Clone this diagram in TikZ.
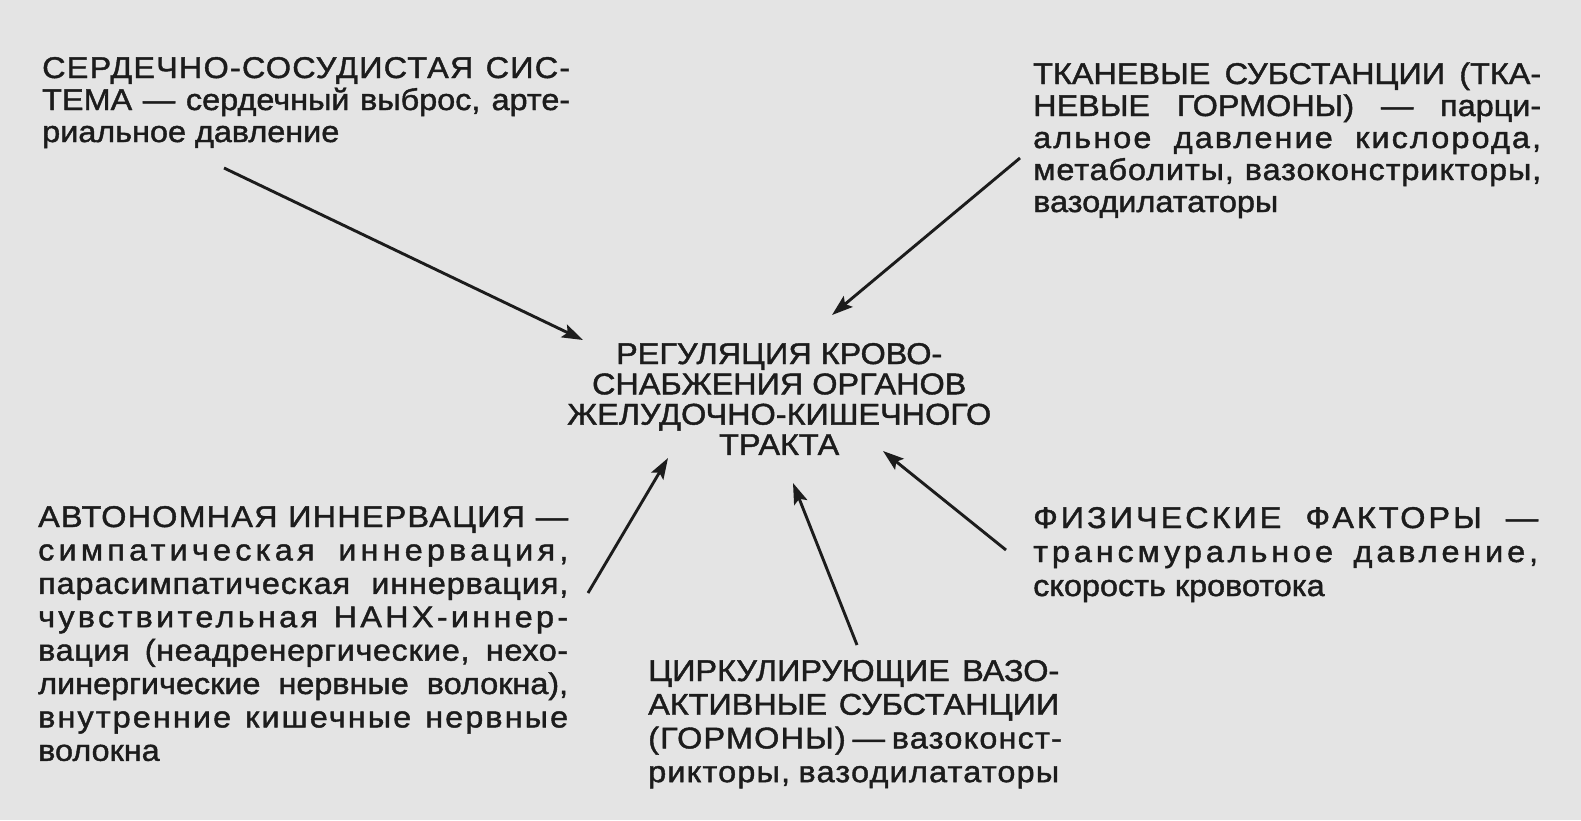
\documentclass[tikz,border=0pt]{standalone}
\usepackage{fontspec}
\setmainfont{Liberation Sans}[FakeStretch=1.08,FakeBold=1.4]
\usetikzlibrary{arrows.meta}
\definecolor{bg}{RGB}{228,228,228}
\definecolor{ink}{RGB}{28,28,28}
\newlength\bw
\newcommand\jl[1]{\hbox to \bw{#1}}
\newcommand\lastl[1]{\hbox to \bw{#1\hfil}}
\newcommand\cl[1]{\hbox to \bw{\hfil#1\hfil}}
\newcommand\lsp[2]{{\addfontfeature{LetterSpace=#1}#2}}
\newcommand\blocktext[3]{\vtop{\setlength\bw{#1}\baselineskip=#2\lineskiplimit=-100pt\lineskip=0pt #3}}
\tikzset{
  txt/.style={inner sep=0pt, anchor=base west, text=ink, font=\fontsize{30}{32}\selectfont},
  arr/.style={draw=ink, line width=2.9pt, -{Stealth[length=21pt,width=14pt,inset=4pt]}}
}
\begin{document}
\begin{tikzpicture}[x=1pt,y=-1pt]
\fill[bg] (0,0) rectangle (1581,820);
\useasboundingbox (0,0) rectangle (1581,820);

\node[txt] (cardio) at (42,78) {\blocktext{528pt}{32pt}{%
\jl{\lsp{4}{СЕРДЕЧНО-СОСУДИСТАЯ СИС-}}%
\jl{ТЕМА — сердечный выброс, арте-}%
\lastl{риальное давление}}};

\node[txt] (tissue) at (1033,84) {\blocktext{508pt}{32pt}{%
\jl{ТКАНЕВЫЕ СУБСТАНЦИИ (ТКА-}%
\jl{НЕВЫЕ ГОРМОНЫ) — парци-}%
\jl{\lsp{7}{альное давление кислорода,}}%
\jl{\lsp{3}{метаболиты, вазоконстрикторы,}}%
\lastl{вазодилататоры}}};

\node[txt] (center) at (559,364) {\blocktext{440pt}{30.3pt}{%
\cl{РЕГУЛЯЦИЯ КРОВО-}%
\cl{СНАБЖЕНИЯ ОРГАНОВ}%
\cl{ЖЕЛУДОЧНО-КИШЕЧНОГО}%
\cl{ТРАКТА}}};

\node[txt] (auto) at (38,527) {\blocktext{530pt}{33.4pt}{%
\jl{\lsp{4}{АВТОНОМНАЯ ИННЕРВАЦИЯ —}}%
\jl{\lsp{14}{симпатическая иннервация,}}%
\jl{\lsp{3}{парасимпатическая иннервация,}}%
\jl{\lsp{11}{чувствительная НАНХ-иннер-}}%
\jl{\lsp{2}{вация (неадренергические, нехо-}}%
\jl{линергические нервные волокна),}%
\jl{\lsp{7}{внутренние кишечные нервные}}%
\lastl{волокна}}};

\node[txt] (circ) at (648,681) {\blocktext{411pt}{33.7pt}{%
\jl{ЦИРКУЛИРУЮЩИЕ ВАЗО-}%
\jl{АКТИВНЫЕ СУБСТАНЦИИ}%
\jl{\lsp{4}{(ГОРМОНЫ) — вазоконст-}}%
\jl{\lsp{4}{рикторы, вазодилататоры}}}};

\node[txt] (phys) at (1033,528) {\blocktext{505pt}{34pt}{%
\jl{\lsp{10}{ФИЗИЧЕСКИЕ ФАКТОРЫ —}}%
\jl{\lsp{13}{трансмуральное давление,}}%
\lastl{скорость кровотока}}};

\coordinate (c1s) at (224,168);
\coordinate (c1e) at (583,340);
\coordinate (t1s) at (1020,158);
\coordinate (t1e) at (832,315);
\coordinate (a1s) at (588,593);
\coordinate (a1e) at (668,458);
\coordinate (h1s) at (857,645);
\coordinate (h1e) at (793,483);
\coordinate (p1s) at (1006,550);
\coordinate (p1e) at (883,451);

\draw[arr] (c1s) -- (c1e);
\draw[arr] (t1s) -- (t1e);
\draw[arr] (a1s) -- (a1e);
\draw[arr] (h1s) -- (h1e);
\draw[arr] (p1s) -- (p1e);
\end{tikzpicture}
\end{document}
